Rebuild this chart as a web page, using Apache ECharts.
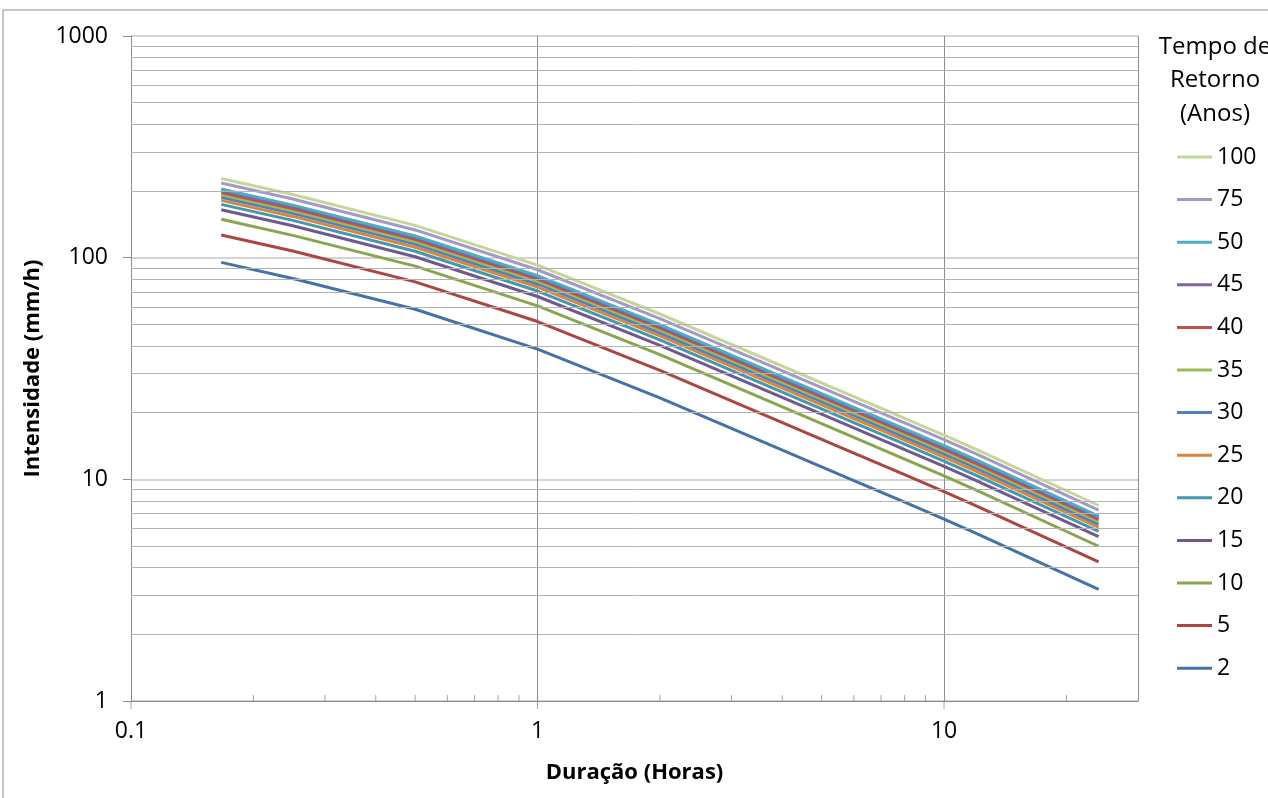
<!DOCTYPE html>
<html>
<head>
    <meta charset="utf-8">
    <title>Intensidade x Duração</title>
    <script src="https://cdn.jsdelivr.net/npm/echarts@6/dist/echarts.min.js"></script>
    <style>
        html, body { margin: 0; padding: 0; background: #fff; }
        #chart { width: 1268px; height: 798px; }
    </style>
</head>
<body>
<div id="chart"></div>
<script type="text/javascript">
    // duração (horas)
    var durations = [0.1667, 0.25, 0.5, 1, 2, 6, 8, 10, 12, 24];

    // intensidade (mm/h) por tempo de retorno
    var i2   = [95.2, 80.6, 58.5, 38.7, 23.3, 9.87, 7.89, 6.62, 5.71, 3.19];
    var i5   = [126.6, 107.2, 77.8, 51.5, 31.0, 13.13, 10.49, 8.80, 7.59, 4.24];
    var i10  = [149.0, 126.1, 91.6, 60.6, 36.5, 15.45, 12.35, 10.36, 8.94, 4.99];
    var i15  = [164.4, 139.2, 101.0, 66.8, 40.2, 17.05, 13.63, 11.43, 9.86, 5.51];
    var i20  = [173.9, 147.3, 106.9, 70.7, 42.6, 18.03, 14.42, 12.09, 10.43, 5.83];
    var i25  = [181.3, 153.5, 111.4, 73.7, 44.4, 18.79, 15.02, 12.60, 10.87, 6.07];
    var i30  = [187.3, 158.5, 115.1, 76.1, 45.8, 19.41, 15.52, 13.02, 11.23, 6.27];
    var i35  = [192.3, 162.8, 118.2, 78.2, 47.1, 19.94, 15.94, 13.37, 11.53, 6.44];
    var i40  = [196.8, 166.6, 120.9, 80.0, 48.2, 20.40, 16.31, 13.68, 11.80, 6.59];
    var i45  = [200.7, 169.9, 123.3, 81.6, 49.1, 20.81, 16.63, 13.95, 12.04, 6.72];
    var i50  = [203.9, 172.6, 125.3, 82.9, 49.9, 21.14, 16.90, 14.18, 12.23, 6.83];
    var i75  = [217.1, 183.8, 133.4, 88.2, 53.1, 22.50, 17.99, 15.09, 13.02, 7.27];
    var i100 = [227.5, 192.6, 139.8, 92.5, 55.7, 23.59, 18.86, 15.82, 13.65, 7.62];

    var periods = ['2', '5', '10', '15', '20', '25', '30', '35', '40', '45', '50', '75', '100'];
    var intensities = [i2, i5, i10, i15, i20, i25, i30, i35, i40, i45, i50, i75, i100];
    var colors = ['#4572A7', '#AA4643', '#89A54E', '#71588F', '#4198AF', '#DB843D',
                  '#4F81BD', '#9BBB59', '#C0504D', '#8064A2', '#4BACC6', '#A597C6', '#C4D79B'];

    // marcas auxiliares dos eixos
    var yMinor = [2, 3, 4, 5, 6, 7, 8, 9, 20, 30, 40, 50, 60, 70, 80, 90, 200, 300, 400, 500, 600, 700, 800, 900];
    var xMinor = [0.2, 0.3, 0.4, 0.5, 0.6, 0.7, 0.8, 0.9, 2, 3, 4, 5, 6, 7, 8, 9, 20];
    var xMajor = [0.1, 1, 10];

    var font = 'Open Sans';

    function isPow10(v) {
        var l = Math.log(v) / Math.LN10;
        return Math.abs(l - Math.round(l)) < 1e-6;
    }

    var series = [];
    // grade secundária (linhas horizontais)
    series.push({
        name: 'grade',
        type: 'line',
        data: [],
        z: 1,
        silent: true,
        markLine: {
            silent: true,
            symbol: 'none',
            label: { show: false },
            lineStyle: { color: '#b2b2b2', width: 1, type: 'solid' },
            emphasis: { disabled: true },
            animation: false,
            data: yMinor.map(function (v) { return { yAxis: v }; })
        }
    });
    // traços menores do eixo x (para dentro)
    series.push({
        name: 'minor',
        type: 'scatter',
        silent: true,
        clip: false,
        symbol: 'rect',
        symbolSize: [1, 6],
        symbolOffset: [0, -3],
        itemStyle: { color: '#8c8c8c' },
        data: xMinor.map(function (v) { return [v, 1]; }),
        z: 3
    });
    // traços principais do eixo x (para fora)
    series.push({
        name: 'major',
        type: 'scatter',
        silent: true,
        clip: false,
        symbol: 'rect',
        symbolSize: [1, 8],
        symbolOffset: [0, 4],
        itemStyle: { color: '#8c8c8c' },
        data: xMajor.map(function (v) { return [v, 1]; }),
        z: 3
    });

    for (var k = 0; k < periods.length; k++) {
        var pts = [];
        for (var j = 0; j < durations.length; j++) {
            pts.push([durations[j], intensities[k][j]]);
        }
        series.push({
            name: periods[k],
            type: 'line',
            symbol: 'none',
            smooth: false,
            z: 2,
            color: colors[k],
            lineStyle: { width: 3, color: colors[k] },
            data: pts
        });
    }

    var chart = echarts.init(document.getElementById('chart'));
    var option = {
        animation: false,
        backgroundColor: '#ffffff',
        textStyle: { fontFamily: font },
        title: {
            text: 'Tempo de\nRetorno\n(Anos)',
            left: 1210,
            top: 25,
            textAlign: 'center',
            textStyle: {
                fontFamily: font,
                fontWeight: 'normal',
                fontSize: 24,
                lineHeight: 33.5,
                color: '#000'
            }
        },
        legend: {
            orient: 'vertical',
            left: 1172,
            top: 140,
            icon: 'rect',
            itemWidth: 35,
            itemHeight: 3,
            itemGap: 18.6,
            data: periods.slice().reverse(),
            textStyle: { fontFamily: font, fontSize: 23, lineHeight: 24, color: '#000' }
        },
        graphic: [{
            type: 'rect',
            shape: { x: 3, y: 10, width: 1300, height: 820 },
            style: { fill: 'none', stroke: '#8c8c8c', lineWidth: 1 },
            silent: true
        }],
        grid: { left: 131, top: 36, width: 1007, height: 665, containLabel: false },
        xAxis: {
            type: 'log',
            logBase: 10,
            min: 0.1,
            max: 30,
            name: 'Duração (Horas)',
            nameLocation: 'middle',
            nameGap: 61,
            nameTextStyle: { fontFamily: font, fontWeight: 'bold', fontSize: 22, color: '#000' },
            axisLine: { lineStyle: { color: '#8c8c8c', width: 1 } },
            axisTick: { show: false },
            axisLabel: {
                fontFamily: font,
                fontSize: 23,
                color: '#000',
                margin: 19,
                formatter: function (v) { return isPow10(v) ? String(+v.toPrecision(6)) : ''; }
            },
            splitLine: { show: true, lineStyle: { color: '#8c8c8c', width: 1 } },
            minorTick: { show: false }
        },
        yAxis: {
            type: 'log',
            logBase: 10,
            min: 1,
            max: 1000,
            name: 'Intensidade (mm/h)',
            nameLocation: 'middle',
            nameGap: 87,
            nameTextStyle: { fontFamily: font, fontWeight: 'bold', fontSize: 22, color: '#000' },
            axisLine: { show: true, lineStyle: { color: '#8c8c8c', width: 1 } },
            axisTick: { show: true, length: 8, lineStyle: { color: '#8c8c8c' } },
            axisLabel: {
                fontFamily: font,
                fontSize: 23,
                color: '#000',
                margin: 23,
                formatter: function (v) { return String(+v.toPrecision(6)); }
            },
            splitLine: { show: true, lineStyle: { color: '#d4d4d4', width: 2 } }
        },
        series: series
    };
    chart.setOption(option);
</script>
</body>
</html>
